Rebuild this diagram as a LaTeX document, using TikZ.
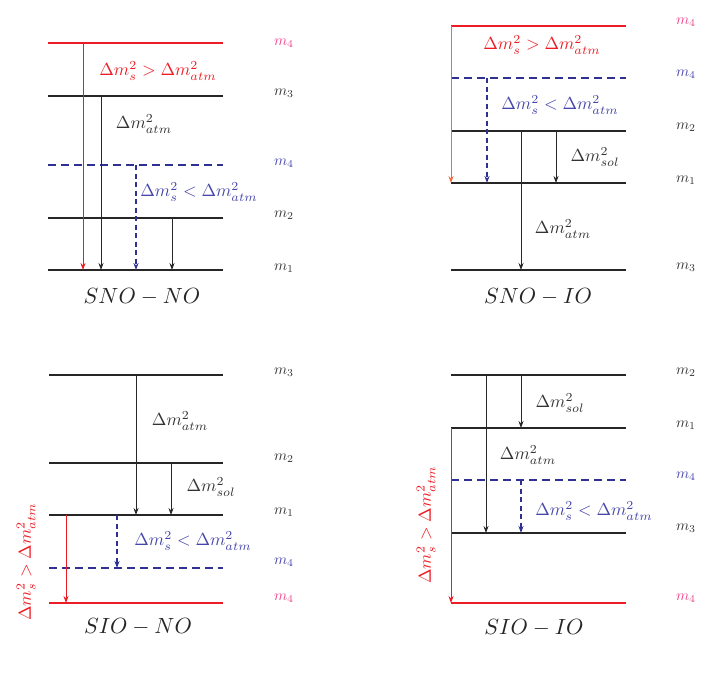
\documentclass[tikz,border=0pt]{standalone}
\usetikzlibrary{arrows.meta}
\definecolor{lvred}{RGB}{237,28,36}
\definecolor{lvpink}{RGB}{236,70,140}
\definecolor{lvblue}{RGB}{46,49,146}
\definecolor{txblue}{RGB}{70,70,170}
\definecolor{lvorange}{RGB}{242,108,58}
\definecolor{arrgray}{RGB}{40,40,40}
\tikzset{
  lev/.style={line width=1.9pt, black!85},
  levred/.style={line width=1.9pt, lvred},
  levdash/.style={line width=1.5pt, lvblue, dash pattern=on 8pt off 5pt},
  arr/.style={line width=0.8pt, arrgray, -{Stealth[length=7pt,width=5pt]}},
  arrred/.style={line width=0.8pt, lvred, -{Stealth[length=7pt,width=5pt]}},
  arrorange/.style={line width=0.8pt, lvorange, -{Stealth[length=7pt,width=5pt]}},
  arrblue/.style={line width=1.5pt, lvblue, dash pattern=on 5pt off 3.5pt, -{Stealth[length=7pt,width=5pt]}},
  mlab/.style={font=\normalsize, scale=1.5, text=black!80, inner sep=0pt},
  mlabred/.style={mlab, text=lvpink},
  mlabblue/.style={mlab, text=txblue},
  dlab/.style={font=\normalsize, scale=1.75, text=black!80, inner sep=0pt},
  dlabred/.style={dlab, text=lvred},
  dlabblue/.style={dlab, text=txblue},
  title/.style={font=\normalsize, scale=2.2, text=black!85, inner sep=0pt}
}
\begin{document}
\begin{tikzpicture}[x=1pt,y=-1pt]
\useasboundingbox (0,0) rectangle (723,678);
% ================= SNO - NO =================
\coordinate (a4L) at (48,43);   \coordinate (a4R) at (223,43);
\coordinate (a3L) at (48,96);   \coordinate (a3R) at (223,96);
\coordinate (a4dL) at (48,165); \coordinate (a4dR) at (223,165);
\coordinate (a2L) at (48,218);  \coordinate (a2R) at (223,218);
\coordinate (a1L) at (48,270);  \coordinate (a1R) at (223,270);
\draw[levred] (a4L) -- (a4R);
\draw[lev] (a3L) -- (a3R);
\draw[levdash] (a4dL) -- (a4dR);
\draw[lev] (a2L) -- (a2R);
\draw[lev] (a1L) -- (a1R);
\coordinate (ar1s) at (83,43);   \coordinate (ar1e) at (83,270);
\coordinate (ar2s) at (101,96);  \coordinate (ar2e) at (101,270);
\coordinate (ar3s) at (136,165); \coordinate (ar3e) at (136,270);
\coordinate (ar4s) at (172,218); \coordinate (ar4e) at (172,270);
\draw[arrred] (ar1s) -- (ar1e);
\draw[arr] (ar2s) -- (ar2e);
\draw[arrblue] (ar3s) -- (ar3e);
\draw[arr] (ar4s) -- (ar4e);
\node[mlabred]  (am4)  at (284,43)  {$m_4$};
\node[mlab]     (am3)  at (284,93)  {$m_3$};
\node[mlabblue] (am4d) at (284,163) {$m_4$};
\node[mlab]     (am2)  at (284,215) {$m_2$};
\node[mlab]     (am1)  at (284,268) {$m_1$};
\node[dlabred]  (ad1) at (158,71)  {$\Delta m_s^2>\Delta m_{atm}^2$};
\node[dlab]     (ad2) at (144,124) {$\Delta m_{atm}^2$};
\node[dlabblue] (ad3) at (199,192) {$\Delta m_s^2<\Delta m_{atm}^2$};
\node[title]    (at)  at (142,297) {$SNO-NO$};
% ================= SNO - IO =================
\coordinate (b4L) at (451,26);   \coordinate (b4R) at (626,26);
\coordinate (b4dL) at (451,78);  \coordinate (b4dR) at (626,78);
\coordinate (b2L) at (451,131);  \coordinate (b2R) at (626,131);
\coordinate (b1L) at (451,183);  \coordinate (b1R) at (626,183);
\coordinate (b3L) at (451,270);  \coordinate (b3R) at (626,270);
\draw[levred] (b4L) -- (b4R);
\draw[levdash] (b4dL) -- (b4dR);
\draw[lev] (b2L) -- (b2R);
\draw[lev] (b1L) -- (b1R);
\draw[lev] (b3L) -- (b3R);
\coordinate (br1s) at (451,26);  \coordinate (br1e) at (451,183);
\coordinate (br2s) at (487,78);  \coordinate (br2e) at (487,183);
\coordinate (br3s) at (521,131); \coordinate (br3e) at (521,270);
\coordinate (br4s) at (556,131); \coordinate (br4e) at (556,183);
\draw[arrorange] (br1s) -- (br1e);
\draw[arrblue] (br2s) -- (br2e);
\draw[arr] (br3s) -- (br3e);
\draw[arr] (br4s) -- (br4e);
\node[mlabred]  (bm4)  at (686,22)  {$m_4$};
\node[mlabblue] (bm4d) at (686,74)  {$m_4$};
\node[mlab]     (bm2)  at (686,127) {$m_2$};
\node[mlab]     (bm1)  at (686,180) {$m_1$};
\node[mlab]     (bm3)  at (686,267) {$m_3$};
\node[dlabred]  (bd1) at (542,45)  {$\Delta m_s^2>\Delta m_{atm}^2$};
\node[dlabblue] (bd2) at (560,105) {$\Delta m_s^2<\Delta m_{atm}^2$};
\node[dlab]     (bd3) at (595,157) {$\Delta m_{sol}^2$};
\node[dlab]     (bd4) at (563,229) {$\Delta m_{atm}^2$};
\node[title]    (bt)  at (538,297) {$SNO-IO$};
% ================= SIO - NO =================
\coordinate (c3L) at (49,375);   \coordinate (c3R) at (223,375);
\coordinate (c2L) at (49,463);   \coordinate (c2R) at (223,463);
\coordinate (c1L) at (49,515);   \coordinate (c1R) at (223,515);
\coordinate (c4dL) at (49,568);  \coordinate (c4dR) at (223,568);
\coordinate (c4L) at (49,603);   \coordinate (c4R) at (223,603);
\draw[lev] (c3L) -- (c3R);
\draw[lev] (c2L) -- (c2R);
\draw[lev] (c1L) -- (c1R);
\draw[levdash] (c4dL) -- (c4dR);
\draw[levred] (c4L) -- (c4R);
\coordinate (cr1s) at (136,375); \coordinate (cr1e) at (136,515);
\coordinate (cr2s) at (171,463); \coordinate (cr2e) at (171,515);
\coordinate (cr3s) at (117,515); \coordinate (cr3e) at (117,568);
\coordinate (cr4s) at (66,515);  \coordinate (cr4e) at (66,603);
\draw[arr] (cr1s) -- (cr1e);
\draw[arr] (cr2s) -- (cr2e);
\draw[arrblue] (cr3s) -- (cr3e);
\draw[arrred] (cr4s) -- (cr4e);
\node[mlab]     (cm3)  at (284,372) {$m_3$};
\node[mlab]     (cm2)  at (284,458) {$m_2$};
\node[mlab]     (cm1)  at (284,512) {$m_1$};
\node[mlabblue] (cm4d) at (284,562) {$m_4$};
\node[mlabred]  (cm4)  at (284,598) {$m_4$};
\node[dlab]     (cd1) at (180,421) {$\Delta m_{atm}^2$};
\node[dlab]     (cd2) at (211,487) {$\Delta m_{sol}^2$};
\node[dlabblue] (cd3) at (193,541) {$\Delta m_s^2<\Delta m_{atm}^2$};
\node[dlabred, rotate=90] (cd4) at (26,562) {$\Delta m_s^2>\Delta m_{atm}^2$};
\node[title]    (ct)  at (138,627) {$SIO-NO$};
% ================= SIO - IO =================
\coordinate (d2L) at (451,375);  \coordinate (d2R) at (626,375);
\coordinate (d1L) at (451,428);  \coordinate (d1R) at (626,428);
\coordinate (d4dL) at (451,480); \coordinate (d4dR) at (626,480);
\coordinate (d3L) at (451,533);  \coordinate (d3R) at (626,533);
\coordinate (d4L) at (451,603);  \coordinate (d4R) at (626,603);
\draw[lev] (d2L) -- (d2R);
\draw[lev] (d1L) -- (d1R);
\draw[levdash] (d4dL) -- (d4dR);
\draw[lev] (d3L) -- (d3R);
\draw[levred] (d4L) -- (d4R);
\coordinate (dr1s) at (486,375); \coordinate (dr1e) at (486,533);
\coordinate (dr2s) at (521,375); \coordinate (dr2e) at (521,428);
\coordinate (dr3s) at (521,480); \coordinate (dr3e) at (521,533);
\coordinate (dr4s) at (451,428); \coordinate (dr4e) at (451,603);
\draw[arr] (dr1s) -- (dr1e);
\draw[arr] (dr2s) -- (dr2e);
\draw[arrblue] (dr3s) -- (dr3e);
\draw[arrred] (dr4s) -- (dr4e);
\node[mlab]     (dm2)  at (686,372) {$m_2$};
\node[mlab]     (dm1)  at (686,425) {$m_1$};
\node[mlabblue] (dm4d) at (686,476) {$m_4$};
\node[mlab]     (dm3)  at (686,528) {$m_3$};
\node[mlabred]  (dm4)  at (686,598) {$m_4$};
\node[dlab]     (dd1) at (560,403) {$\Delta m_{sol}^2$};
\node[dlab]     (dd2) at (528,455) {$\Delta m_{atm}^2$};
\node[dlabblue] (dd3) at (594,511) {$\Delta m_s^2<\Delta m_{atm}^2$};
\node[dlabred, rotate=90] (dd4) at (426,525) {$\Delta m_s^2>\Delta m_{atm}^2$};
\node[title]    (dt)  at (534,628) {$SIO-IO$};
\end{tikzpicture}
\end{document}
